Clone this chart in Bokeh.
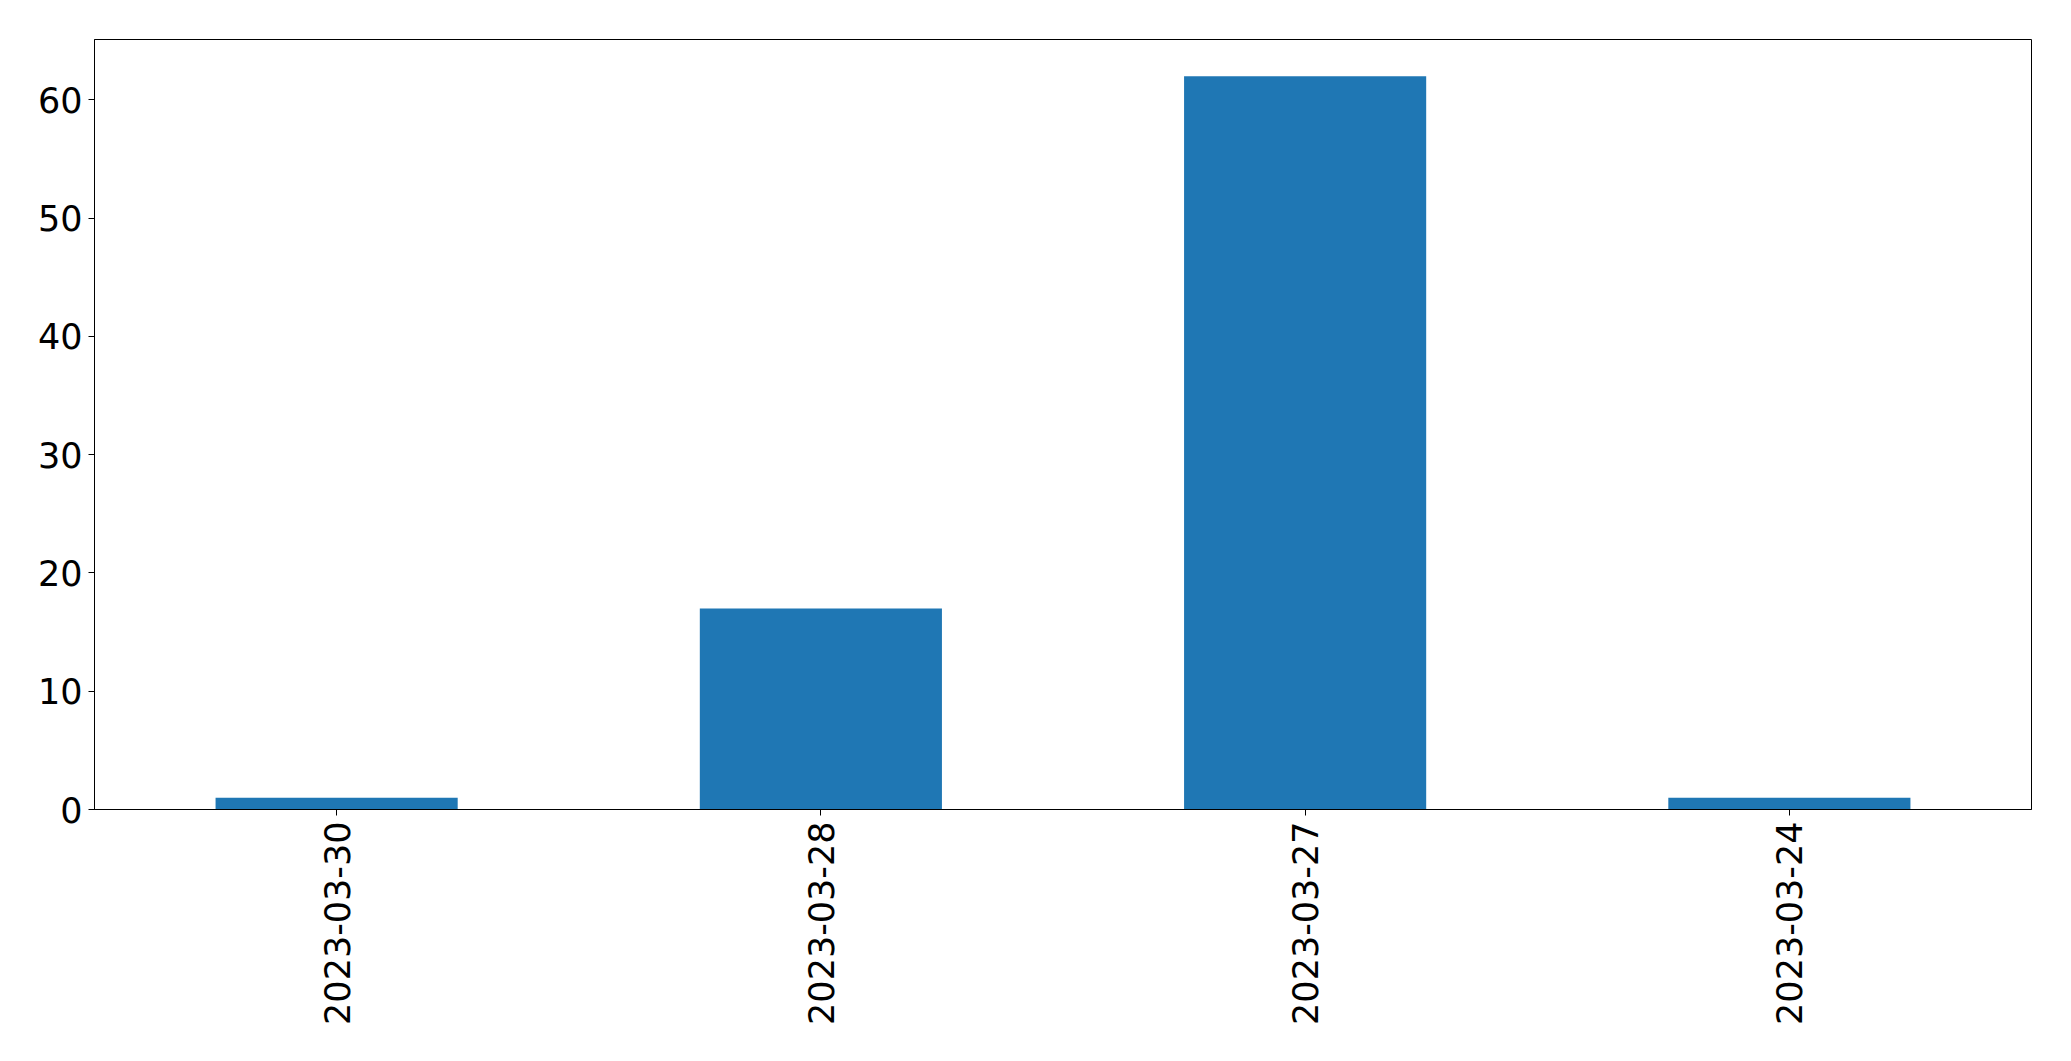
from bokeh.plotting import figure
from bokeh.models import FactorRange, Range1d, FixedTicker, ColumnDataSource
from bokeh.embed import file_html
from bokeh.resources import INLINE
import math

dates = ["2023-03-30", "2023-03-28", "2023-03-27", "2023-03-24"]
counts = [1, 17, 62, 1]
y_ticks = [0, 10, 20, 30, 40, 50, 60]

src = ColumnDataSource(dict(x=dates, top=counts))

p = figure(
    x_range=FactorRange(*dates, range_padding=0),
    y_range=Range1d(0, max(counts) * 1.05),
    width=2063, height=1053,
    output_backend="svg", toolbar_location=None,
    min_border_left=94, min_border_right=32, min_border_top=39, min_border_bottom=244,
)
p.vbar(x="x", top="top", width=0.5, source=src, color="#1f77b4", line_color=None)

p.xgrid.visible = False
p.ygrid.visible = False
p.outline_line_color = "black"
p.outline_line_width = 1
p.outline_line_alpha = 1

for ax in (p.xaxis[0], p.yaxis[0]):
    ax.axis_line_color = "black"
    ax.major_tick_line_color = "black"
    ax.major_tick_out = 6
    ax.major_tick_in = 0
    ax.minor_tick_line_color = None
    ax.major_label_text_font = "DejaVu Sans"
    ax.major_label_text_font_size = "35px"
    ax.major_label_text_color = "black"
    ax.major_label_standoff = 6

p.xaxis.major_label_orientation = math.pi / 2
p.yaxis.ticker = FixedTicker(ticks=y_ticks)

open("out.html", "w").write(file_html(p, INLINE))
